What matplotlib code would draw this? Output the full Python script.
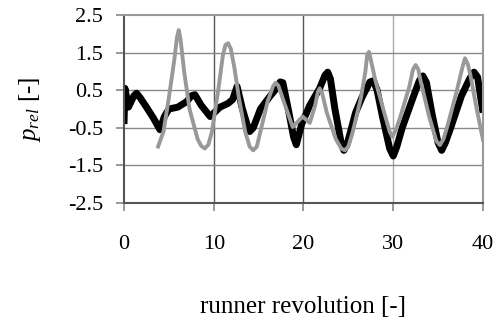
import matplotlib
matplotlib.use("Agg")
import matplotlib.pyplot as plt

# Black series (runner revolution, p_rel)
black_x = [0.0, 0.1, 0.5, 1.1, 1.4, 1.8, 2.5, 3.3, 4.0, 4.5, 5.0, 6.0, 7.0, 7.5, 7.9, 8.6, 9.6,
           10.7, 11.6, 12.1, 12.6, 13.2, 13.7, 14.0, 14.4, 15.2, 16.3, 17.0, 17.4, 17.7,
           18.3, 18.9, 19.2, 19.8, 20.7, 21.8, 22.4, 22.7, 23.0, 23.5, 24.2, 24.5, 24.9,
           25.3, 25.8, 26.5, 27.4, 27.8, 28.2, 28.8, 29.6, 30.0, 30.4, 31.0, 32.2, 32.9,
           33.3, 33.7, 34.3, 35.0, 35.4, 35.8, 36.4, 37.6, 38.5, 39.0, 39.4, 40.0]
black_y = [-0.4, 0.55, 0.05, 0.35, 0.42, 0.3, 0.05, -0.25, -0.55, -0.2, 0.0, 0.05, 0.2, 0.35,
           0.38, 0.1, -0.2, 0.05, 0.15, 0.25, 0.6, 0.0, -0.4, -0.6, -0.5, 0.0, 0.35, 0.55,
           0.72, 0.7, 0.0, -0.75, -0.95, -0.4, 0.1, 0.55, 0.9, 0.98, 0.8, 0.0, -0.9, -1.1,
           -0.9, -0.55, -0.1, 0.3, 0.72, 0.75, 0.5, -0.2, -1.05, -1.25, -1.0, -0.5, 0.3,
           0.75, 0.88, 0.7, -0.1, -0.9, -1.1, -0.9, -0.5, 0.35, 0.8, 0.98, 0.85, -0.1]

# Grey series
grey_x = [3.8, 4.4, 5.0, 5.6, 5.9, 6.1, 6.3, 6.7, 7.3, 8.2, 8.6, 9.0, 9.4, 9.8, 10.5,
          11.0, 11.3, 11.6, 11.9, 12.3, 12.8, 13.5, 14.0, 14.4, 14.8, 15.2, 16.0, 16.6,
          16.9, 17.2, 17.8, 18.8, 19.9, 20.7, 21.3, 21.6, 21.8, 22.1, 22.6, 23.6, 24.2,
          24.6, 25.0, 25.5, 26.4, 26.9, 27.1, 27.3, 27.6, 28.0, 29.0, 29.6, 29.9, 30.3,
          30.8, 31.8, 32.2, 32.5, 32.8, 33.0, 34.0, 34.8, 35.2, 35.6, 36.1, 37.1, 37.7,
          38.0, 38.3, 38.6, 39.3, 40.0]
grey_y = [-1.0, -0.6, 0.3, 1.3, 1.9, 2.1, 1.85, 1.0, 0.0, -0.8, -0.98, -1.05, -0.95, -0.6,
          0.5, 1.4, 1.7, 1.75, 1.6, 1.1, 0.3, -0.6, -1.0, -1.1, -1.0, -0.6, 0.2, 0.6, 0.7,
          0.62, 0.2, -0.48, -0.2, -0.37, 0.1, 0.45, 0.55, 0.4, -0.1, -0.8, -1.05, -1.1,
          -1.0, -0.6, 0.3, 1.0, 1.45, 1.52, 1.2, 0.77, -0.1, -0.6, -0.74, -0.55, -0.2,
          0.6, 1.05, 1.17, 1.05, 0.8, -0.2, -0.85, -0.96, -0.8, -0.4, 0.5, 1.1, 1.35,
          1.2, 0.9, 0.0, -0.82]

x_ticks = [0, 10, 20, 30, 40]
y_ticks = [-2.5, -1.5, -0.5, 0.5, 1.5, 2.5]

plt.rcParams['font.family'] = ['Liberation Serif', 'DejaVu Serif']
plt.rcParams['mathtext.fontset'] = 'custom'
plt.rcParams['mathtext.it'] = 'Liberation Serif:italic'
plt.rcParams['mathtext.rm'] = 'Liberation Serif'

fig = plt.figure(figsize=(4.97, 3.25), dpi=100)
ax = fig.add_axes([0.2495, 0.3754, 0.7223, 0.5784])

# grid
for xv in x_ticks[1:-1]:
    ax.axvline(xv, color='#555555' if xv < 30 else '#aaaaaa', lw=1.0, zorder=0)
for yv in y_ticks[1:-1]:
    ax.axhline(yv, color='#888888', lw=1.0, zorder=0)

ax.plot(black_x, black_y, color='black', lw=5.0, solid_joinstyle='round',
        solid_capstyle='butt', zorder=2)
ax.plot(grey_x, grey_y, color='#999999', lw=2.8, solid_joinstyle='round', zorder=3)

ax.set_xlim(0, 40)
ax.set_ylim(-2.5, 2.5)
ax.set_xticks(x_ticks)
ax.set_yticks(y_ticks)
ax.set_xticklabels([str(v) for v in x_ticks])
ax.set_yticklabels([f"{v:.1f}" for v in y_ticks])

ax.spines['left'].set_color('#555555')
ax.spines['bottom'].set_color('#555555')
ax.spines['top'].set_color('#999999')
ax.spines['right'].set_color('#999999')
for s in ax.spines.values():
    s.set_linewidth(1.5)

ax.tick_params(axis='both', direction='out', length=6, width=1.2, color='#888888',
               labelsize=16, labelcolor='black')
ax.tick_params(axis='x', pad=17)
ax.tick_params(axis='y', pad=9)

ax.set_xlabel('runner revolution [-]', fontsize=18, labelpad=30)
ax.set_ylabel(r'$p_{rel}$ [-]', fontsize=18, labelpad=18)

fig.savefig('out.png', dpi=100)
